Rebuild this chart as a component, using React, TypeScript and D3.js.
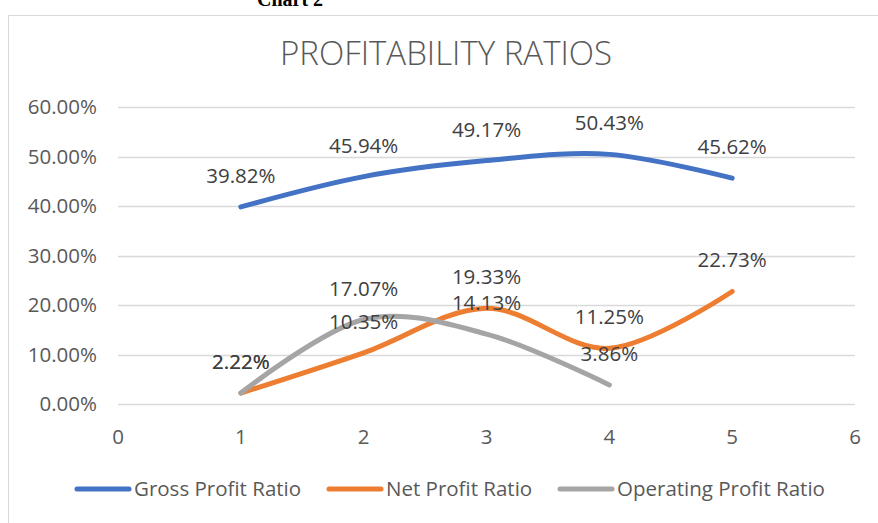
import React from "react";
import * as d3 from "d3";

const xValues = [1, 2, 3, 4, 5];
const grossProfit = [39.82, 45.94, 49.17, 50.43, 45.62];
const netProfit = [2.22, 10.35, 19.33, 11.25, 22.73];
const operatingProfit = [2.22, 17.07, 14.13, 3.86];
const yTicks = [0, 10, 20, 30, 40, 50, 60];
const xTicks = [0, 1, 2, 3, 4, 5, 6];
const seriesNames = ["Gross Profit Ratio", "Net Profit Ratio", "Operating Profit Ratio"];
const colors = ["#4472C4", "#ED7D31", "#A5A5A5"];

const FONT = "'Open Sans', sans-serif";
const FS = 20.5;

export default function App() {
  const x = d3.scaleLinear().domain([0, 6]).range([118, 855]);
  const y = d3.scaleLinear().domain([0, 60]).range([404, 107]);
  const line = d3
    .line<[number, number]>()
    .x((d) => x(d[0]))
    .y((d) => y(d[1]))
    .curve(d3.curveCardinal.tension(0));

  const series = [grossProfit, netProfit, operatingProfit];
  const legendX = [75, 327, 558];

  return (
    <svg
      width={878}
      height={523}
      style={{ position: "absolute", left: 0, top: 0, background: "#fff" }}
    >
      <text x={290} y={6} textAnchor="middle" fontFamily="'Liberation Serif', serif" fontWeight="bold" fontSize={20} fill="#000">
        Chart 2
      </text>
      <rect x={8.5} y={15.5} width={900} height={540} fill="none" stroke="#d9d9d9" strokeWidth={1} />
      <text x={446} y={65} textAnchor="middle" fontFamily={FONT} fontWeight={300} fontSize={33} fill="#595959">
        PROFITABILITY RATIOS
      </text>
      {yTicks.map((t) => (
        <g key={t}>
          <line x1={118} x2={855} y1={Math.round(y(t)) + 0.5} y2={Math.round(y(t)) + 0.5} stroke="#d9d9d9" strokeWidth={1.3} />
          <text x={97} y={y(t) + 7} textAnchor="end" fontFamily={FONT} fontSize={FS} fill="#595959">
            {t.toFixed(2)}%
          </text>
        </g>
      ))}
      {xTicks.map((t) => (
        <text key={t} x={x(t)} y={444} textAnchor="middle" fontFamily={FONT} fontSize={FS} fill="#595959">
          {t}
        </text>
      ))}
      {series.map((s, i) => (
        <path
          key={i}
          d={line(s.map((v, j) => [xValues[j], v] as [number, number])) || ""}
          fill="none"
          stroke={colors[i]}
          strokeWidth={5}
          strokeLinecap="round"
          strokeLinejoin="round"
        />
      ))}
      {series.map((s, i) =>
        s.map((v, j) => (
          <text
            key={`${i}-${j}`}
            x={x(xValues[j])}
            y={y(v) - 24}
            textAnchor="middle"
            fontFamily={FONT}
            fontSize={FS}
            fill="#404040"
          >
            {v.toFixed(2)}%
          </text>
        ))
      )}
      {seriesNames.map((n, i) => (
        <g key={n}>
          <line x1={legendX[i] + 2} x2={legendX[i] + 54} y1={489} y2={489} stroke={colors[i]} strokeWidth={5} strokeLinecap="round" />
          <text x={legendX[i] + 59} y={496} fontFamily={FONT} fontSize={FS} fill="#595959">
            {n}
          </text>
        </g>
      ))}
    </svg>
  );
}
